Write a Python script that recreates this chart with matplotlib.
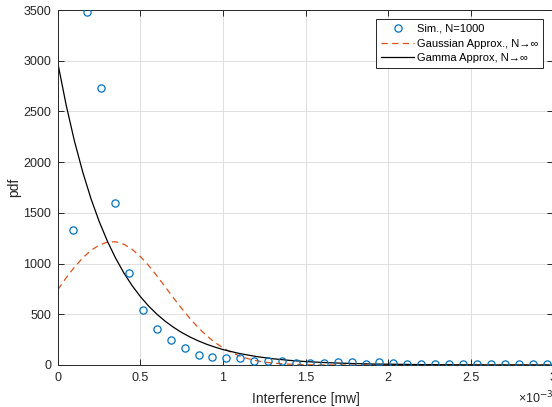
import matplotlib
matplotlib.use('Agg')
import matplotlib.pyplot as plt

plt.rcParams['font.family'] = ['Liberation Sans', 'DejaVu Sans']

# x values are in units of 1e-3 mW (axis shows x10^-3)
sim_x = [0.093, 0.177, 0.261, 0.346, 0.430, 0.514, 0.599, 0.683, 0.767, 0.852,
         0.936, 1.020, 1.105, 1.189, 1.273, 1.358, 1.442, 1.526, 1.611, 1.695,
         1.779, 1.864, 1.948, 2.032, 2.117, 2.201, 2.285, 2.370, 2.454, 2.538,
         2.623, 2.707, 2.791, 2.876, 2.960]
sim_y = [1330, 3480, 2730, 1600, 910, 540, 355, 250, 164, 99,
         79, 66, 66, 43, 43, 36, 16, 23, 23, 29,
         26, 13, 29, 16, 13, 10, 10, 10, 10, 10,
         10, 10, 10, 10, 10]

gauss_x = [0, 0.05, 0.1, 0.15, 0.2, 0.25, 0.3, 0.35, 0.4, 0.45, 0.5, 0.55, 0.6,
           0.65, 0.7, 0.75, 0.8, 0.85, 0.9, 0.95, 1.0, 1.05, 1.1, 1.15, 1.2,
           1.25, 1.3, 1.4, 1.5, 1.6, 1.8, 2.0, 2.5, 3.0]
gauss_y = [745, 860, 965, 1055, 1130, 1182, 1212, 1215, 1190, 1140, 1068, 980, 878,
           770, 662, 556, 458, 368, 290, 224, 168, 124, 89, 63, 43,
           29, 19, 8, 3, 1, 0, 0, 0, 0]

gamma_x = [0, 0.05, 0.1, 0.15, 0.2, 0.25, 0.3, 0.35, 0.4, 0.45, 0.5, 0.55, 0.6,
           0.65, 0.7, 0.75, 0.8, 0.85, 0.9, 0.95, 1.0, 1.1, 1.2, 1.3, 1.4, 1.5,
           1.6, 1.7, 1.8, 1.9, 2.0, 2.2, 2.4, 2.6, 2.8, 3.0]
gamma_y = [2970, 2560, 2207, 1903, 1640, 1414, 1219, 1051, 906, 781, 673, 580, 500,
           431, 372, 320, 276, 238, 205, 177, 152, 113, 84, 62, 46, 34,
           25, 19, 14, 10, 8, 4, 2, 1, 1, 0]

ink = '#262626'

fig = plt.figure(figsize=(5.52, 4.07), dpi=100)
ax = fig.add_axes([0.105, 0.1032, 0.897, 0.8722])

ax.plot(sim_x, sim_y, 'o', mfc='none', mec='#0072BD', ms=5.2, mew=0.9,
        label='Sim., N=1000', zorder=3)
ax.plot(gauss_x, gauss_y, color='#D95319', lw=0.9, dashes=(5, 3.5),
        label='Gaussian Approx., N→∞')
ax.plot(gamma_x, gamma_y, color='k', lw=0.9, label='Gamma Approx, N→∞')

ax.set_xlim(0, 3)
ax.set_ylim(0, 3500)
ax.set_xticks([0, 0.5, 1, 1.5, 2, 2.5, 3])
ax.set_xticklabels(['0', '0.5', '1', '1.5', '2', '2.5', '3'])
ax.set_yticks(range(0, 3501, 500))

ax.grid(True, color='#dfdfdf', lw=0.7)
ax.set_axisbelow(True)
for s in ax.spines.values():
    s.set_color(ink)
    s.set_linewidth(0.7)
ax.tick_params(direction='in', top=True, right=True, length=4, width=0.7,
               colors=ink, labelsize=9, labelcolor=ink, pad=5)

ax.set_xlabel('Interference [mw]', fontsize=10, color=ink, labelpad=5.5)
ax.set_ylabel('pdf', fontsize=10, color=ink, labelpad=1)
ax.text(1.0, -0.108, '×10$^{-3}$', transform=ax.transAxes, ha='right',
        va='baseline', fontsize=9, color=ink)

leg = ax.legend(loc='upper right', bbox_to_anchor=(0.98, 0.975), fontsize=8,
                fancybox=False, framealpha=1, edgecolor=ink,
                handlelength=2.9, borderpad=0.45, labelspacing=0.42,
                handletextpad=0.3, borderaxespad=0)
leg.get_frame().set_linewidth(0.7)

fig.savefig('out.png', dpi=100)
